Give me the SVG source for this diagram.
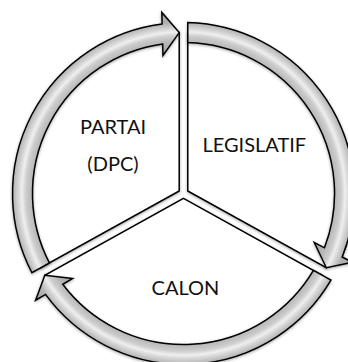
<svg xmlns="http://www.w3.org/2000/svg" width="348" height="362" viewBox="0 0 348 362">
<defs>
<radialGradient id="ring" gradientUnits="userSpaceOnUse" cx="183.5" cy="193.5" r="185">
<stop offset="0.75" stop-color="#a2a2a2"/>
<stop offset="0.816" stop-color="#b6b6b6"/>
<stop offset="0.852" stop-color="#cdcdcd"/>
<stop offset="0.874" stop-color="#efefef"/>
<stop offset="0.888" stop-color="#dcdcdc"/>
<stop offset="0.924" stop-color="#b2b2b2"/>
<stop offset="1" stop-color="#a0a0a0"/>
</radialGradient>
<filter id="sh" x="-10%" y="-10%" width="120%" height="120%">
<feDropShadow dx="0" dy="1" stdDeviation="1.4" flood-color="#000" flood-opacity="0.35"/>
</filter>
</defs>
<style>
.sector{fill:#fff;stroke:#000;stroke-width:1.5;stroke-linejoin:miter;filter:url(#sh)}
.arrow{fill:url(#ring);stroke:#000;stroke-width:1.5;stroke-linejoin:miter;filter:url(#sh)}
.lbl{font-family:Lato,"Open Sans","Liberation Sans",sans-serif;font-size:20px;fill:#111;text-anchor:middle}
</style>
<rect width="348" height="362" fill="#fff"/>
<g id="node-partai">
<path class="sector" d="M179.2,190.97 L40.65,267.77 A161,161 0 0 1 179.2,32.56 Z"/>
<text class="lbl" x="113" y="134.3">PARTAI</text>
<text class="lbl" x="113" y="170.5">(DPC)</text>
</g>
<g id="node-legislatif">
<path class="sector" d="M187.8,190.97 L187.8,32.56 A161,161 0 0 1 326.35,267.77 Z"/>
<text class="lbl" x="254.3" y="152">LEGISLATIF</text>
</g>
<g id="node-calon">
<path class="sector" d="M183.5,198.42 L322.18,275.29 A161,161 0 0 1 44.82,275.29 Z"/>
<text class="lbl" x="185.5" y="295">CALON</text>
</g>
<g id="connectors">
<path class="arrow" d="M31.90,272.61 A171,171 0 0 1 162.13,23.89 L161.83,12.40 L179.20,32.56 L162.97,55.38 L162.67,43.89 A151,151 0 0 0 49.40,262.92 Z"/>
<path class="arrow" d="M187.80,22.55 A171,171 0 0 1 342.20,257.04 L352.41,262.35 L326.35,267.77 L314.25,242.51 L324.46,247.82 A151,151 0 0 0 187.80,42.56 Z"/>
<path class="arrow" d="M330.93,280.14 A171,171 0 0 1 45.52,294.41 L35.61,300.25 L44.82,275.29 L72.65,278.41 L62.74,284.25 A151,151 0 0 0 313.43,270.44 Z"/>
</g>
</svg>
